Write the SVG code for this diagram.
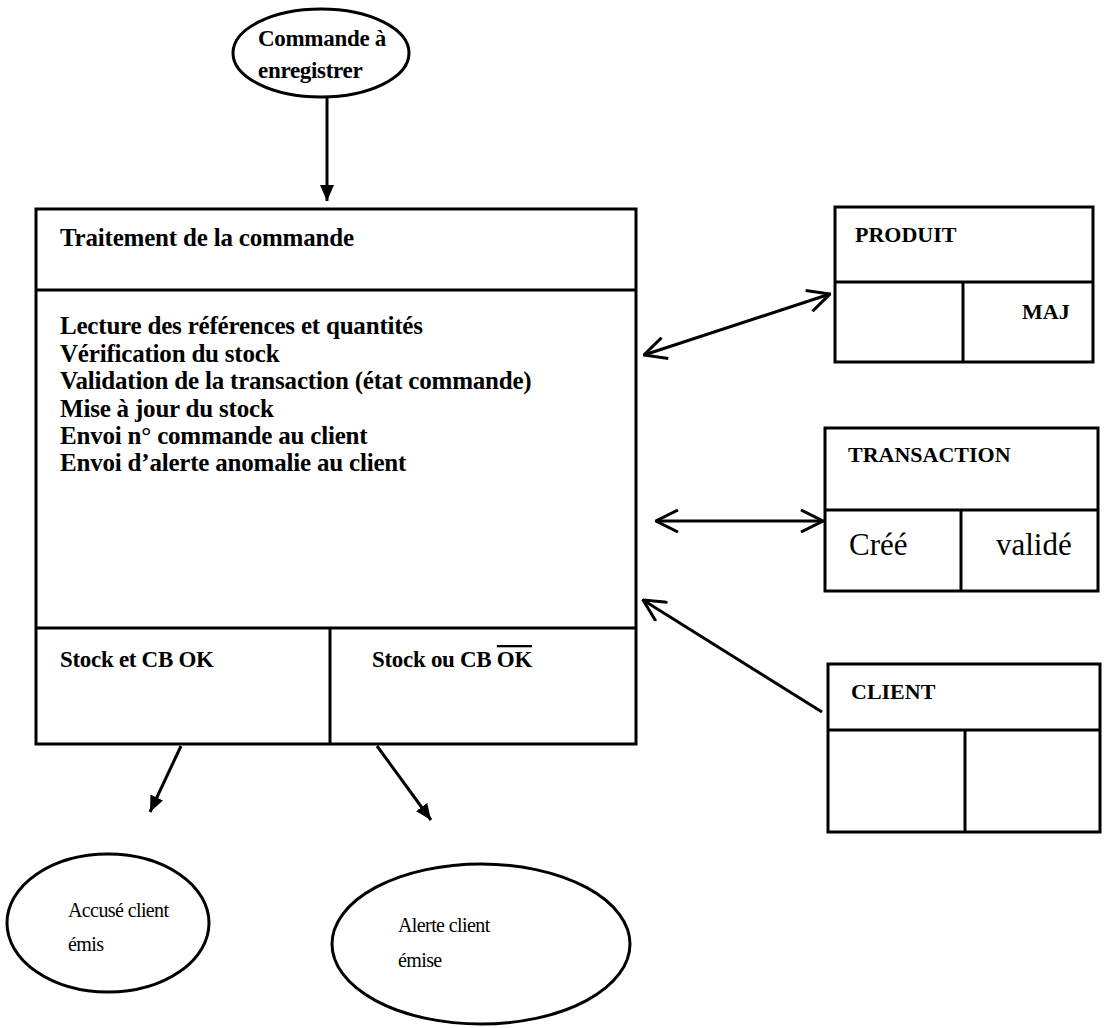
<svg xmlns="http://www.w3.org/2000/svg" width="1107" height="1028" viewBox="0 0 1107 1028">
<style>
.box{fill:none;stroke:#000;stroke-width:3}
.ln{fill:none;stroke:#000;stroke-width:3}
.t{font-family:"Liberation Serif","Times New Roman",serif;font-size:23px;font-weight:bold;fill:#000;letter-spacing:-0.3px}
.l{font-family:"Liberation Serif","Times New Roman",serif;font-size:25px;font-weight:bold;fill:#000;letter-spacing:-0.2px}
.h{font-family:"Liberation Serif","Times New Roman",serif;font-size:22px;font-weight:bold;fill:#000}
.n{font-family:"Liberation Serif","Times New Roman",serif;font-size:20px;fill:#000;letter-spacing:-0.6px}
.big{font-family:"Liberation Serif","Times New Roman",serif;font-size:31px;fill:#000}
.c{fill:none;stroke:#000;stroke-width:3}
</style>
<defs>
<marker id="fill" viewBox="0 0 16 14" refX="16" refY="7" markerWidth="16" markerHeight="14" markerUnits="userSpaceOnUse" orient="auto">
<path d="M0,0 L16,7 L0,14 z" fill="#000"/>
</marker>
<marker id="open" viewBox="0 0 24 24" refX="23" refY="12" markerWidth="24" markerHeight="24" markerUnits="userSpaceOnUse" orient="auto-start-reverse">
<path d="M1,1 L23,12 L1,23" fill="none" stroke="#000" stroke-width="3" stroke-linejoin="miter"/>
</marker>
</defs>

<g id="commande">
<ellipse class="c" cx="321" cy="53" rx="88" ry="44"/>
<text class="t" x="258" y="46">Commande à</text>
<text class="t" x="258" y="78">enregistrer</text>
</g>

<g id="traitement">
<rect class="box" x="36" y="209" width="600" height="535"/>
<line class="box" x1="36" y1="290" x2="636" y2="290"/>
<line class="box" x1="36" y1="628" x2="636" y2="628"/>
<line class="box" x1="330" y1="628" x2="330" y2="744"/>
<text class="l" x="60" y="246">Traitement de la commande</text>
<text class="l" x="60" y="334">Lecture des références et quantités</text>
<text class="l" x="60" y="362">Vérification du stock</text>
<text class="l" x="60" y="389">Validation de la transaction (état commande)</text>
<text class="l" x="60" y="417">Mise à jour du stock</text>
<text class="l" x="60" y="444">Envoi n° commande au client</text>
<text class="l" x="60" y="471">Envoi d’alerte anomalie au client</text>
<text class="t" x="60" y="667">Stock et CB OK</text>
<text class="t" x="372" y="667">Stock ou CB <tspan text-decoration="overline">OK</tspan></text>
</g>

<g id="produit">
<rect class="box" x="835" y="207" width="258" height="155"/>
<line class="box" x1="835" y1="282" x2="1093" y2="282"/>
<line class="box" x1="963" y1="282" x2="963" y2="362"/>
<text class="h" x="855" y="242">PRODUIT</text>
<text class="h" x="1022" y="319">MAJ</text>
</g>

<g id="transaction">
<rect class="box" x="825" y="428" width="273" height="163"/>
<line class="box" x1="825" y1="510" x2="1098" y2="510"/>
<line class="box" x1="961" y1="510" x2="961" y2="591"/>
<text class="h" x="848" y="462">TRANSACTION</text>
<text class="big" x="849" y="555">Créé</text>
<text class="big" x="996" y="555">validé</text>
</g>

<g id="client">
<rect class="box" x="828" y="664" width="272" height="168"/>
<line class="box" x1="828" y1="730" x2="1100" y2="730"/>
<line class="box" x1="965" y1="730" x2="965" y2="832"/>
<text class="h" x="851" y="699">CLIENT</text>
</g>

<g id="accuse">
<ellipse class="c" cx="108" cy="923" rx="101" ry="69"/>
<text class="n" x="68" y="917">Accusé client</text>
<text class="n" x="68" y="951">émis</text>
</g>

<g id="alerte">
<ellipse class="c" cx="481" cy="944" rx="149" ry="80"/>
<text class="n" x="398" y="932">Alerte client</text>
<text class="n" x="398" y="967">émise</text>
</g>

<g id="connectors">
<line class="ln" x1="327" y1="97" x2="327" y2="201" marker-end="url(#fill)"/>
<line class="ln" x1="644" y1="355" x2="830" y2="294" marker-start="url(#open)" marker-end="url(#open)"/>
<line class="ln" x1="656" y1="521" x2="823" y2="521" marker-start="url(#open)" marker-end="url(#open)"/>
<line class="ln" x1="822" y1="712" x2="643" y2="600" marker-end="url(#open)"/>
<line class="ln" x1="181" y1="746" x2="150" y2="812" marker-end="url(#fill)"/>
<line class="ln" x1="377" y1="746" x2="431" y2="820" marker-end="url(#fill)"/>
</g>
</svg>
